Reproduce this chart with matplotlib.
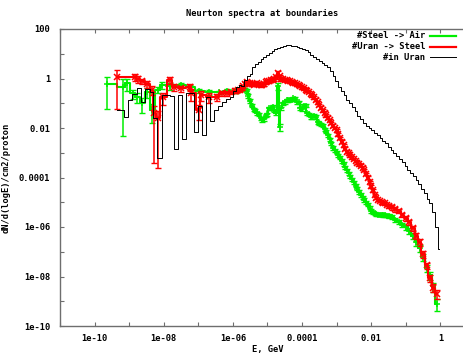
import numpy as np
import matplotlib
matplotlib.use("Agg")
import matplotlib.pyplot as plt
from matplotlib.lines import Line2D
from matplotlib.ticker import FixedLocator, FixedFormatter, NullFormatter

# ---------------- data (log10 values) ----------------
title = "Neurton spectra at boundaries"
xlabel = "E, GeV"
ylabel = "dN/d(logE)/cm2/proton"
series_names = ["#Steel -> Air", "#Uran -> Steel", "#in Uran"]

xtick_vals = [1e-10, 1e-8, 1e-6, 1e-4, 1e-2, 1]
xtick_labels = ["1e-10", "1e-08", "1e-06", "0.0001", "0.01", "1"]
ytick_vals = [1e-10, 1e-8, 1e-6, 1e-4, 1e-2, 1, 100]
ytick_labels = ["1e-10", "1e-08", "1e-06", "0.0001", "0.01", "1", "100"]

# black: in Uran (histogram)
blk_logE = [-9.36, -9.22, -9.1, -8.98, -8.85, -8.72, -8.6, -8.47, -8.36, -8.25,
            -8.13, -8.0, -7.88, -7.77, -7.65, -7.54, -7.42, -7.31, -7.19, -7.08,
            -6.96, -6.85, -6.73, -6.62, -6.5, -6.39, -6.27, -6.16, -6.04,
            -5.96, -5.88, -5.80, -5.72, -5.64, -5.56, -5.48, -5.40, -5.32, -5.24,
            -5.16, -5.08, -5.00, -4.92, -4.84, -4.76, -4.68, -4.60, -4.52, -4.44,
            -4.36, -4.28, -4.20, -4.12, -4.04, -3.96, -3.88, -3.80, -3.72, -3.64,
            -3.56, -3.48, -3.40, -3.32, -3.24, -3.16, -3.08, -3.00, -2.92, -2.84,
            -2.76, -2.68, -2.60, -2.52, -2.44, -2.36, -2.28, -2.20, -2.12, -2.04,
            -1.96, -1.88, -1.80, -1.72, -1.64, -1.56, -1.48, -1.40, -1.32, -1.24,
            -1.16, -1.08, -1.00, -0.92, -0.84, -0.76, -0.68, -0.60, -0.52, -0.44,
            -0.36, -0.28, -0.20, -0.12, -0.04]
blk_logF = [-1.27, -1.27, -1.56, -0.87, -0.63, -0.4, -0.95, -0.43, -0.55, -1.6,
            -3.2, -0.67, -0.67, -0.7, -2.85, -0.67, -2.44, -0.6, -0.6, -2.16,
            -1.1, -2.28, -0.75, -1.72, -1.27, -1.1, -0.95, -0.83, -0.75,
            -0.5, -0.35, -0.25, -0.3, -0.05, 0.1, 0.2, 0.45, 0.6, 0.68,
            0.78, 0.88, 0.95, 1.05, 1.12, 1.2, 1.25, 1.28, 1.32, 1.35,
            1.34, 1.32, 1.3, 1.28, 1.25, 1.2, 1.15, 1.08, 0.95, 0.85,
            0.78, 0.7, 0.63, 0.55, 0.45, 0.3, 0.12, -0.1, -0.34, -0.5,
            -0.68, -0.85, -1.0, -1.15, -1.3, -1.5, -1.65, -1.78, -1.9, -2.0,
            -2.08, -2.2, -2.3, -2.42, -2.52, -2.62, -2.75, -2.88, -3.0, -3.12,
            -3.25, -3.38, -3.55, -3.68, -3.8, -3.92, -4.1, -4.28, -4.45, -4.62,
            -4.85, -5.05, -5.4, -6.0, -6.9]

# red: Uran -> Steel
red_logE = [-9.36, -8.84, -8.75, -8.64, -8.47, -8.35, -8.27, -8.18, -8.03, -7.83,
            -7.69, -7.49, -7.25, -7.2, -6.97, -6.91, -6.68, -6.47, -6.33, -6.18,
            -6.05, -5.95, -5.90, -5.85, -5.80, -5.75, -5.70, -5.65, -5.60, -5.55,
            -5.50, -5.45, -5.40, -5.35, -5.30, -5.25, -5.20, -5.15, -5.10, -5.05,
            -5.00, -4.95, -4.90, -4.85, -4.80, -4.75, -4.70, -4.65, -4.60, -4.55,
            -4.50, -4.45, -4.40, -4.35, -4.30, -4.25, -4.20, -4.15, -4.10, -4.05,
            -4.00, -3.95, -3.90, -3.85, -3.80, -3.75, -3.70, -3.65, -3.60, -3.55,
            -3.50, -3.45, -3.40, -3.35, -3.30, -3.25, -3.20, -3.15, -3.10, -3.05,
            -3.00, -2.95, -2.90, -2.85, -2.80, -2.75, -2.70, -2.65, -2.60, -2.55,
            -2.50, -2.45, -2.40, -2.35, -2.30, -2.25, -2.20, -2.15, -2.10, -2.05,
            -2.00, -1.95, -1.90, -1.85, -1.80, -1.75, -1.70, -1.65, -1.60, -1.55,
            -1.5, -1.4, -1.3, -1.2, -1.1, -1.0, -0.9, -0.8, -0.7, -0.6,
            -0.5, -0.4, -0.3, -0.2, -0.1]
red_logF = [0.06, 0.05, -0.02, -0.1, -0.22, -0.45, -1.4, -1.6, -0.75, -0.06,
            -0.35, -0.4, -0.33, -0.6, -1.27, -0.67, -0.75, -0.75, -0.6, -0.6,
            -0.55, -0.52, -0.5, -0.47, -0.45, -0.38, -0.32, -0.22, -0.15, -0.18,
            -0.2, -0.24, -0.25, -0.21, -0.2, -0.24, -0.26, -0.25, -0.22, -0.15,
            -0.12, -0.1, -0.08, -0.05, -0.02, 0.05, 0.22, 0.1, -0.03, -0.04,
            -0.06, -0.07, -0.1, -0.12, -0.14, -0.17, -0.2, -0.23, -0.26, -0.3,
            -0.35, -0.4, -0.45, -0.5, -0.55, -0.62, -0.68, -0.76, -0.85, -0.96,
            -1.07, -1.18, -1.28, -1.38, -1.48, -1.58, -1.68, -1.79, -1.9, -2.0,
            -2.1, -2.25, -2.4, -2.55, -2.7, -2.83, -2.95, -3.03, -3.1, -3.18,
            -3.25, -3.33, -3.4, -3.46, -3.52, -3.6, -3.7, -3.85, -4.0, -4.18,
            -4.35, -4.52, -4.7, -4.82, -4.9, -4.95, -5.0, -5.02, -5.05, -5.1,
            -5.15, -5.2, -5.28, -5.35, -5.5, -5.65, -5.8, -6.05, -6.35, -6.6,
            -7.1, -7.55, -8.05, -8.45, -8.7]
red_relerr = ([0.95, 0.3, 0.3, 0.25, 0.3, 0.4, 0.99, 0.99, 0.5, 0.3,
               0.3, 0.3, 0.3, 0.5, 0.6, 0.4, 0.4, 0.3, 0.25, 0.2]
              + [0.15] * 26 + [0.25] + [0.12] * 63
              + [0.2, 0.2, 0.2, 0.2, 0.2, 0.25, 0.25, 0.25, 0.3, 0.3,
                 0.3, 0.3, 0.35, 0.35, 0.4])

# green: Steel -> Air
grn_logE = [-9.65, -9.19, -9.05, -8.9, -8.76, -8.64, -8.47, -8.35, -8.18, -8.06,
            -7.83, -7.49, -7.25, -6.97, -6.68, -6.39, -6.18, -6.05,
            -5.95, -5.90, -5.85, -5.80, -5.75, -5.70, -5.65, -5.60, -5.55,
            -5.50, -5.45, -5.40, -5.35, -5.30, -5.25, -5.20, -5.15, -5.10, -5.05,
            -5.00, -4.95, -4.90, -4.85, -4.80, -4.75, -4.70, -4.65, -4.60, -4.55,
            -4.50, -4.45, -4.40, -4.35, -4.30, -4.25, -4.20, -4.15, -4.10, -4.05,
            -4.00, -3.95, -3.90, -3.85, -3.80, -3.75, -3.70, -3.65, -3.60, -3.55,
            -3.50, -3.45, -3.40, -3.35, -3.30, -3.25, -3.20, -3.15, -3.10, -3.05,
            -3.00, -2.95, -2.90, -2.85, -2.80, -2.75, -2.70, -2.65, -2.60, -2.55,
            -2.50, -2.45, -2.40, -2.35, -2.30, -2.25, -2.20, -2.15, -2.10, -2.05,
            -2.00, -1.95, -1.90, -1.85, -1.80, -1.75, -1.70, -1.65, -1.60, -1.55,
            -1.5, -1.4, -1.3, -1.2, -1.1, -1.0, -0.9, -0.8, -0.7, -0.6,
            -0.5, -0.4, -0.3, -0.2, -0.1]
grn_logF = [-0.22, -0.33, -0.2, -0.6, -0.75, -1.0, -0.55, -1.27, -0.45, -0.26,
            -0.3, -0.26, -0.35, -0.5, -0.55, -0.55, -0.5, -0.55,
            -0.52, -0.5, -0.47, -0.45, -0.42, -0.4, -0.45, -0.5, -0.7,
            -0.9, -1.1, -1.25, -1.3, -1.4, -1.45, -1.6, -1.68, -1.65, -1.5,
            -1.45, -1.2, -1.2, -1.15, -1.3, -1.4, -0.3, -1.96, -1.2, -1.0,
            -0.95, -0.87, -0.87, -0.85, -0.85, -0.8, -0.82, -0.95, -0.95, -1.2,
            -1.25, -1.1, -1.1, -1.4, -1.45, -1.56, -1.56, -1.5, -1.55, -1.76,
            -1.8, -1.85, -1.9, -2.05, -2.15, -2.3, -2.45, -2.62, -2.8, -2.9,
            -3.0, -3.1, -3.2, -3.33, -3.45, -3.58, -3.7, -3.83, -3.95, -4.08,
            -4.2, -4.33, -4.45, -4.58, -4.7, -4.8, -4.9, -5.0, -5.1, -5.22,
            -5.35, -5.4, -5.45, -5.48, -5.5, -5.5, -5.5, -5.51, -5.52, -5.54,
            -5.55, -5.6, -5.7, -5.8, -5.9, -6.0, -6.15, -6.35, -6.6, -6.85,
            -7.2, -7.65, -7.95, -8.4, -9.1]
grn_relerr = ([0.9, 0.99, 0.5, 0.4, 0.4, 0.6, 0.4, 0.7, 0.3, 0.3,
               0.3, 0.25, 0.25, 0.2, 0.2, 0.15, 0.15, 0.1]
              + [0.15] * 25 + [0.3, 0.3] + [0.15] * 62
              + [0.2, 0.2, 0.2, 0.2, 0.2, 0.25, 0.25, 0.25, 0.3, 0.3,
                 0.3, 0.35, 0.35, 0.4, 0.5])

# ---------------- styling ----------------
W, H = 463, 356
FONT = dict(family="DejaVu Sans Mono", weight="bold", size=6.3)
GREEN = "#00ee00"
RED = "#ff0000"
AXC = "#6e6e6e"

fig = plt.figure(figsize=(W / 100, H / 100), dpi=100)
ax = fig.add_axes([60 / W, 30 / H, 415 / W, 297 / H])
ax.set_xscale("log")
ax.set_yscale("log")
ax.set_xlim(1e-11, 10)
ax.set_ylim(1e-10, 100)


def plot_err(logE, logF, rel, color, marker, z):
    x = np.power(10.0, np.array(logE))
    y = np.power(10.0, np.array(logF))
    dy = y * np.array(rel)
    ax.step(x, y, where="mid", color=color, lw=1.5, zorder=z)
    ax.errorbar(x, y, yerr=dy, fmt="none", ecolor=color, elinewidth=1.1,
                capsize=2.2, capthick=1.0, zorder=z)
    ax.plot(x, y, ls="none", marker=marker, color=color, ms=4.2, mew=1.1,
            zorder=z)


plot_err(grn_logE, grn_logF, grn_relerr, GREEN, "+", 2)
plot_err(red_logE, red_logF, red_relerr, RED, "x", 3)
ax.step(np.power(10.0, np.array(blk_logE)), np.power(10.0, np.array(blk_logF)),
        where="mid", color="black", lw=0.7, zorder=4)

# ticks
ax.xaxis.set_major_locator(FixedLocator(xtick_vals))
ax.xaxis.set_major_formatter(FixedFormatter(xtick_labels))
ax.xaxis.set_minor_locator(FixedLocator([1e-11, 1e-9, 1e-7, 1e-5, 1e-3, 1e-1, 10]))
ax.xaxis.set_minor_formatter(NullFormatter())
ax.yaxis.set_major_locator(FixedLocator(ytick_vals))
ax.yaxis.set_major_formatter(FixedFormatter(ytick_labels))
ax.yaxis.set_minor_locator(FixedLocator([1e-9, 1e-7, 1e-5, 1e-3, 1e-1, 10]))
ax.yaxis.set_minor_formatter(NullFormatter())
ax.tick_params(which="both", direction="in", length=3, width=0.8, color=AXC,
               top=True, right=True)
ax.tick_params(axis="y", which="major", pad=7)
ax.tick_params(axis="x", which="major", pad=6)
for lab in ax.get_xticklabels() + ax.get_yticklabels():
    lab.set_fontfamily(FONT["family"])
    lab.set_fontweight(FONT["weight"])
    lab.set_fontsize(FONT["size"])
for s in ax.spines.values():
    s.set_color(AXC)
    s.set_linewidth(1.0)

ax.set_xlabel(xlabel, fontdict=FONT, labelpad=1)
ax.set_ylabel(ylabel, fontdict=FONT, labelpad=6)

fig.text(262 / W, 1 - 14 / H, title, ha="center", va="center", fontdict=FONT)

# legend (manual, gnuplot style)
leg_colors = [GREEN, RED, "black"]
leg_lw = [1.6, 1.6, 0.7]
for i, (name, c, lw) in enumerate(zip(series_names, leg_colors, leg_lw)):
    yy = 1 - (36 + 10.5 * i) / H
    fig.text(425 / W, yy, name, ha="right", va="center", fontdict=FONT)
    fig.add_artist(Line2D([430 / W, 456 / W], [yy, yy], color=c, lw=lw,
                          transform=fig.transFigure))

fig.savefig("out.png", dpi=100)
